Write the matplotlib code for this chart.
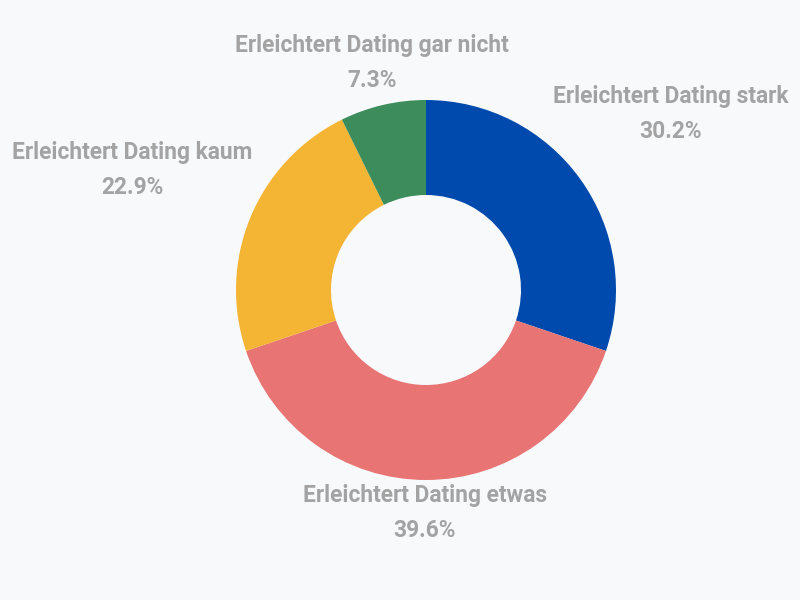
import matplotlib
matplotlib.use('Agg')
import matplotlib.pyplot as plt

# donnees du graphique
categories = ['Erleichtert Dating stark', 'Erleichtert Dating etwas',
              'Erleichtert Dating kaum', 'Erleichtert Dating gar nicht']
values = [30.2, 39.6, 22.9, 7.3]
colors = ['#004AAD', '#E87474', '#F4B434', '#3C8C5C']

# position des libelles (en pixels dans l'image d'origine)
label_px = [(671, 114), (425, 513), (132, 170), (372, 63)]

bg = '#F8F9FB'
fig = plt.figure(figsize=(8, 6), dpi=100, facecolor=bg)
ax = fig.add_axes([0, 0, 1, 1])
ax.set_facecolor(bg)

cx, cy, R = 426, 290, 190
ax.pie(values, colors=colors, startangle=90, counterclock=False,
       radius=1, wedgeprops=dict(width=0.5, linewidth=0))

ax.set_xlim(-cx / R, (800 - cx) / R)
ax.set_ylim(-(600 - cy) / R, cy / R)
ax.set_aspect('equal')
ax.axis('off')

for cat, val, (px, py) in zip(categories, values, label_px):
    ax.text((px - cx) / R, (cy - py) / R, f'{cat}\n{val:.1f}%',
            ha='center', va='center', fontsize=16.4, fontweight='bold',
            family='Roboto', color='#A3A3A3', linespacing=1.65)

plt.savefig('out.png', dpi=100, facecolor=bg)
